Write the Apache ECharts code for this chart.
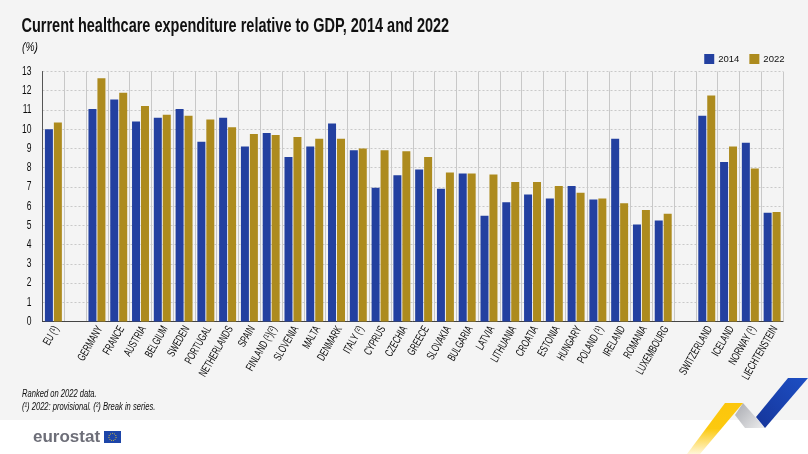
<!DOCTYPE html>
<html>
<head>
<meta charset="utf-8">
<title>Current healthcare expenditure</title>
<script src="https://cdn.jsdelivr.net/npm/echarts@6/dist/echarts.min.js"></script>
<style>
  html, body { margin: 0; padding: 0; background: #fff; }
  #chart { width: 808px; height: 454px; }
</style>
</head>
<body>
<div id="chart"></div>
<script>
const FONT = '"Liberation Sans", sans-serif';

// blank names are the gaps between EU / member states / EFTA
const countries = ['EU (¹)', ' ', 'GERMANY', 'FRANCE', 'AUSTRIA', 'BELGIUM', 'SWEDEN', 'PORTUGAL', 'NETHERLANDS', 'SPAIN',
  'FINLAND (¹)(²)', 'SLOVENIA', 'MALTA', 'DENMARK', 'ITALY (²)', 'CYPRUS', 'CZECHIA', 'GREECE', 'SLOVAKIA', 'BULGARIA',
  'LATVIA', 'LITHUANIA', 'CROATIA', 'ESTONIA', 'HUNGARY', 'POLAND (¹)', 'IRELAND', 'ROMANIA', 'LUXEMBOURG', '  ',
  'SWITZERLAND', 'ICELAND', 'NORWAY (¹)', 'LIECHTENSTEIN'];
const values2014 = [10.0, null, 11.05, 11.55, 10.4, 10.6, 11.05, 9.35, 10.6, 9.1,
  9.8, 8.55, 9.1, 10.3, 8.9, 6.95, 7.6, 7.9, 6.9, 7.7,
  5.5, 6.2, 6.6, 6.4, 7.05, 6.35, 9.5, 5.05, 5.25, null,
  10.7, 8.3, 9.3, 5.65];
const values2022 = [10.35, null, 12.65, 11.9, 11.2, 10.75, 10.7, 10.5, 10.1, 9.75,
  9.7, 9.6, 9.5, 9.5, 9.0, 8.9, 8.85, 8.55, 7.75, 7.7,
  7.65, 7.25, 7.25, 7.05, 6.7, 6.4, 6.15, 5.8, 5.6, null,
  11.75, 9.1, 7.95, 5.7];
const yTicks = [0, 1, 2, 3, 4, 5, 6, 7, 8, 9, 10, 11, 12, 13];

const chart = echarts.init(document.getElementById('chart'));

chart.setOption({
  backgroundColor: '#fff',
  animation: false,
  textStyle: { fontFamily: FONT },
  legend: {
    right: 18.5, top: 49,
    icon: 'rect',
    itemWidth: 10, itemHeight: 10, itemGap: 10,
    textStyle: { fontFamily: FONT, fontSize: 9.5, color: '#111', padding: [0, 0, 0, -1] },
    data: ['2014', '2022']
  },
  grid: { left: 42.5, right: 25, top: 71.5, bottom: 132.5 },
  xAxis: {
    type: 'category',
    data: countries,
    axisTick: { show: false },
    axisLine: { lineStyle: { color: '#444', width: 1 } },
    axisLabel: { show: false }, // drawn below, the condensed face is not installed
    splitLine: { show: true, interval: 0, lineStyle: { color: '#c8c8c8', width: 1 } }
  },
  yAxis: {
    type: 'value', min: 0, max: 13, interval: 1,
    axisTick: { show: false },
    axisLine: { show: true, lineStyle: { color: '#555', width: 1 } },
    axisLabel: { show: false },
    splitLine: { lineStyle: { color: '#c9c9c9', type: [2, 2], width: 1 } }
  },
  series: [
    { name: '2014', type: 'bar', data: values2014, barWidth: 8, barGap: '12%', itemStyle: { color: '#2340a0' }, z: 3 },
    { name: '2022', type: 'bar', data: values2022, barWidth: 8, barGap: '12%', itemStyle: { color: '#ad8b1e' }, z: 3 }
  ]
});

// squeezed text, stands in for the narrow font of the original
function narrowText(text, x, y, size, scale, extra) {
  return Object.assign({
    type: 'text', x: x, y: y, scaleX: scale, z: 5, silent: true,
    style: Object.assign({ text: text, fontFamily: FONT, fontSize: size, fill: '#0c0c0c', verticalAlign: 'middle' }, extra && extra.style)
  }, extra && extra.el);
}

const xLabels = countries.map((name, i) => narrowText(name.trim(),
  chart.convertToPixel({ xAxisIndex: 0 }, i) + 3, 327, 11.5, 0.66,
  { style: { align: 'right' }, el: { rotation: Math.PI / 3 } }));
const yLabels = yTicks.map(v => narrowText(String(v),
  31.5, chart.convertToPixel({ yAxisIndex: 0 }, v), 12.5, 0.68, { style: { align: 'right' } }));

chart.setOption({
  graphic: [
    // grey page panel, white footer
    { type: 'rect', z: -10, silent: true, shape: { x: 0, y: 0, width: 808, height: 420 }, style: { fill: '#f4f4f4' } },
    narrowText('Current healthcare expenditure relative to GDP, 2014 and 2022', 21.5, 26, 20, 0.725,
      { style: { fontWeight: 'bold', fill: '#111' } }),
    narrowText('(%)', 22, 48, 12, 0.85, { style: { fontStyle: 'italic' } }),
    narrowText('Ranked on 2022 data.', 22, 394, 11.5, 0.66, { style: { fontStyle: 'italic' } }),
    narrowText('(¹) 2022: provisional. (²) Break in series.', 22, 407, 11.5, 0.66, { style: { fontStyle: 'italic' } }),
    ...xLabels,
    ...yLabels,
    // eurostat logo
    { type: 'text', z: 5, x: 33, y: 437,
      style: { text: 'eurostat', fontFamily: FONT, fontWeight: 'bold', fontSize: 17, fill: '#6d6e78', verticalAlign: 'middle' } },
    { type: 'rect', z: 5, shape: { x: 104, y: 431, width: 17, height: 12 }, style: { fill: '#1d45a8' } },
    { type: 'circle', z: 6, shape: { cx: 112.5, cy: 437, r: 3.6 }, style: { fill: 'none', stroke: '#f2cf2c', lineWidth: 1, lineDash: [1, 1] } },
    // ribbon in the corner
    { type: 'polygon', z: 5, shape: { points: [[725, 403], [743, 403], [700, 454], [687, 454]] },
      style: { fill: new echarts.graphic.LinearGradient(0, 0, 0, 1, [
        { offset: 0, color: '#fcc60c' }, { offset: 0.5, color: '#fcc90f' }, { offset: 1, color: '#fff6d8' }]) } },
    { type: 'polygon', z: 4, shape: { points: [[743, 403], [765, 428], [745, 428], [735, 415]] },
      style: { fill: new echarts.graphic.LinearGradient(0, 0, 1, 1, [
        { offset: 0, color: '#a8aab0' }, { offset: 1, color: '#eeeeef' }]) } },
    { type: 'polygon', z: 5, shape: { points: [[788, 378], [808, 378], [765, 428], [756, 417]] },
      style: { fill: new echarts.graphic.LinearGradient(1, 0, 0, 1, [
        { offset: 0, color: '#1d4fc4' }, { offset: 1, color: '#16359a' }]) } }
  ]
});
</script>
</body>
</html>
